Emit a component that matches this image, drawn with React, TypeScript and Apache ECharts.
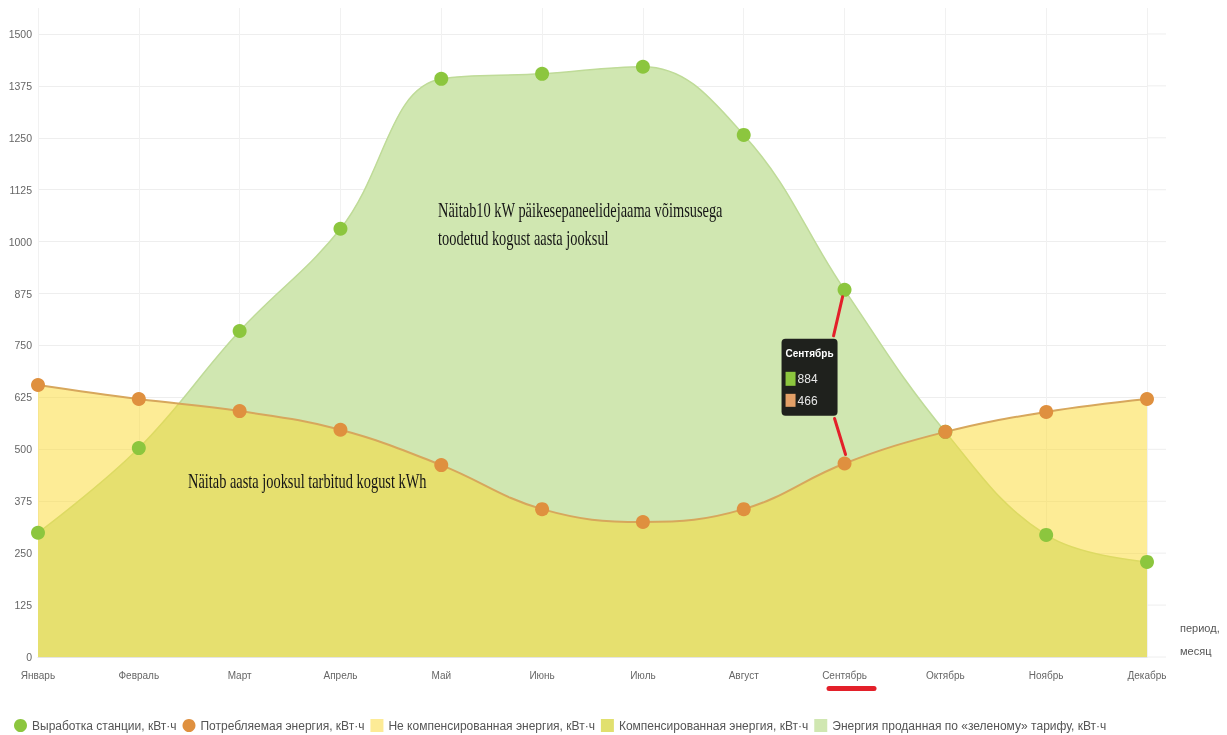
import React, { useEffect, useRef } from "react";
import * as echarts from "echarts";

const months = ["Январь", "Февраль", "Март", "Апрель", "Май", "Июнь", "Июль", "Август", "Сентябрь", "Октябрь", "Ноябрь", "Декабрь"];
const generation = [299, 503, 785, 1031, 1392, 1404, 1421, 1257, 884, 542, 294, 229];
const consumption = [655, 621, 592, 547, 462, 356, 325, 356, 466, 542, 590, 621];
const yMin = 0;
const yMax = 1562.5;
const yStep = 125;
const yLastLabel = 1500;
const highlightIndex = 8;

const GEN_NAME = "Выработка станции, кВт·ч";
const CONS_NAME = "Потребляемая энергия, кВт·ч";
const UNCOMP_NAME = "Не компенсированная энергия, кВт·ч";
const COMP_NAME = "Компенсированная энергия, кВт·ч";
const SOLD_NAME = "Энергия проданная по «зеленому» тарифу, кВт·ч";

const annotationGen = ["Näitab10 kW päikesepaneelidejaama võimsusega", "toodetud kogust aasta jooksul"];
const annotationCons = "Näitab aasta jooksul tarbitud kogust kWh";
const axisTitle = ["период,", "месяц"];

const SANS = '"Liberation Sans", Arial, sans-serif';
const SERIF = '"Liberation Serif", "Times New Roman", serif';

const C_GEN = "#8cc63e";
const C_CONS = "#df903f";
const C_SOLD = "#d0e7b1";
const C_UNCOMP_FILL = "rgba(251,217,45,0.5)";
const C_UNCOMP = "#fdeb96";
const C_COMP = "#e1e06e";

export default function App() {
  const ref = useRef<HTMLDivElement>(null);

  useEffect(() => {
    const chart = echarts.init(ref.current!, null, { renderer: "svg" });
    const option: any = {
      animation: false,
      grid: { left: 38, right: 80, top: 8, bottom: 78 },
      xAxis: {
        type: "category",
        data: months,
        boundaryGap: false,
        axisTick: { show: false },
        axisLine: { lineStyle: { color: "#e4e4e4" } },
        axisLabel: { interval: 0, fontSize: 10, color: "#666", margin: 13, fontFamily: SANS },
        splitLine: { show: true, lineStyle: { color: "#f1f1f1" } },
      },
      yAxis: {
        type: "value",
        min: yMin,
        max: yMax,
        interval: yStep,
        axisLine: { show: false },
        axisTick: { show: false },
        axisLabel: {
          fontSize: 10.5,
          color: "#666",
          margin: 6,
          fontFamily: SANS,
          showMaxLabel: false,
          formatter: (v: number) => (v > yLastLabel ? "" : String(v)),
        },
        splitLine: { showMaxLine: false, lineStyle: { color: "#eeeeee" } },
      },
      legend: {
        left: 9,
        top: 714,
        itemWidth: 13,
        itemHeight: 13,
        itemGap: 6,
        textStyle: { fontSize: 12, color: "#555", fontFamily: SANS },
        data: [
          { name: GEN_NAME, icon: "circle", itemStyle: { color: C_GEN, borderWidth: 0 } },
          { name: CONS_NAME, icon: "circle", itemStyle: { color: C_CONS, borderWidth: 0 } },
          { name: UNCOMP_NAME, icon: "rect", itemStyle: { color: C_UNCOMP, borderWidth: 0 } },
          { name: COMP_NAME, icon: "rect", itemStyle: { color: C_COMP, borderWidth: 0 } },
          { name: SOLD_NAME, icon: "rect", itemStyle: { color: C_SOLD, borderWidth: 0 } },
        ],
      },
      series: [
        {
          name: SOLD_NAME,
          type: "line",
          data: generation,
          smooth: 0.4,
          showSymbol: false,
          silent: true,
          z: 1,
          itemStyle: { color: C_SOLD },
          lineStyle: { color: "#bfdb98", width: 1.5 },
          areaStyle: { color: C_SOLD, opacity: 1 },
        },
        {
          name: UNCOMP_NAME,
          type: "line",
          data: consumption,
          smooth: 0.4,
          showSymbol: false,
          silent: true,
          z: 2,
          itemStyle: { color: C_UNCOMP },
          lineStyle: { color: "#d7a75c", width: 2 },
          areaStyle: { color: C_UNCOMP_FILL, opacity: 1 },
        },
        {
          name: COMP_NAME,
          type: "line",
          data: [],
          itemStyle: { color: C_COMP },
        },
        {
          name: GEN_NAME,
          type: "scatter",
          data: generation,
          symbolSize: 14,
          z: 5,
          itemStyle: { color: C_GEN, opacity: 1 },
        },
        {
          name: CONS_NAME,
          type: "scatter",
          data: consumption,
          symbolSize: 14,
          z: 5,
          itemStyle: { color: C_CONS, opacity: 1 },
        },
      ],
    };
    chart.setOption(option);

    const toPx = (i: number, v: number) => chart.convertToPixel({ gridIndex: 0 }, [i, v]) as number[];
    const [px, gy] = toPx(highlightIndex, generation[highlightIndex]);
    const [, oy] = toPx(highlightIndex, consumption[highlightIndex]);
    const [, ay] = toPx(highlightIndex, 0);
    const [rx] = toPx(months.length - 1, 0);

    const boxX = px - 63;
    const boxY = gy + 49;
    const red = "#e3202a";

    const extLines: any[] = [];
    for (let v = yMin; v <= yLastLabel; v += yStep) {
      const [, ly] = toPx(0, v);
      extLines.push({
        type: "line", silent: true, z: 0,
        shape: { x1: rx, y1: ly, x2: rx + 19, y2: ly },
        style: { stroke: "#eeeeee", lineWidth: 1 },
      });
    }

    chart.setOption({
      graphic: [
        ...extLines,
        {
          type: "text", x: 438, y: 210, scaleX: 0.72, silent: true, z: 20,
          style: { text: annotationGen[0], fontSize: 20, fontFamily: SERIF, fill: "#151515", verticalAlign: "middle" },
        },
        {
          type: "text", x: 438, y: 238, scaleX: 0.72, silent: true, z: 20,
          style: { text: annotationGen[1], fontSize: 20, fontFamily: SERIF, fill: "#151515", verticalAlign: "middle" },
        },
        {
          type: "text", x: 188, y: 481, scaleX: 0.72, silent: true, z: 20,
          style: { text: annotationCons, fontSize: 20, fontFamily: SERIF, fill: "#151515", verticalAlign: "middle" },
        },
        {
          type: "text", x: rx + 33, y: ay - 29, silent: true,
          style: { text: axisTitle[0], fontSize: 11, fontFamily: SANS, fill: "#555", verticalAlign: "middle" },
        },
        {
          type: "text", x: rx + 33, y: ay - 6, silent: true,
          style: { text: axisTitle[1], fontSize: 11, fontFamily: SANS, fill: "#555", verticalAlign: "middle" },
        },
        {
          type: "line", silent: true, z: 20,
          shape: { x1: px - 2, y1: gy + 7, x2: px - 11, y2: gy + 46 },
          style: { stroke: red, lineWidth: 3, lineCap: "round" },
        },
        {
          type: "line", silent: true, z: 20,
          shape: { x1: px - 10, y1: oy - 45, x2: px + 1, y2: oy - 9 },
          style: { stroke: red, lineWidth: 3, lineCap: "round" },
        },
        {
          type: "rect", silent: true, z: 21,
          shape: { x: boxX, y: boxY, width: 56, height: 77, r: 4 },
          style: { fill: "#1f211d" },
        },
        {
          type: "text", x: boxX + 4, y: boxY + 15, silent: true, z: 22,
          style: { text: months[highlightIndex], fontSize: 10, fontWeight: "bold", fontFamily: SANS, fill: "#ffffff", verticalAlign: "middle" },
        },
        {
          type: "rect", silent: true, z: 22,
          shape: { x: boxX + 4, y: boxY + 33, width: 10, height: 14 },
          style: { fill: C_GEN },
        },
        {
          type: "text", x: boxX + 16, y: boxY + 40, silent: true, z: 22,
          style: { text: String(generation[highlightIndex]), fontSize: 12, fontFamily: SANS, fill: "#e8e8e8", verticalAlign: "middle" },
        },
        {
          type: "rect", silent: true, z: 22,
          shape: { x: boxX + 4, y: boxY + 55, width: 10, height: 13 },
          style: { fill: "#e3a067" },
        },
        {
          type: "text", x: boxX + 16, y: boxY + 62, silent: true, z: 22,
          style: { text: String(consumption[highlightIndex]), fontSize: 12, fontFamily: SANS, fill: "#e8e8e8", verticalAlign: "middle" },
        },
        {
          type: "rect", silent: true, z: 20,
          shape: { x: px - 18, y: ay + 29, width: 50, height: 5, r: 2.5 },
          style: { fill: red },
        },
      ],
    });

    return () => chart.dispose();
  }, []);

  return <div ref={ref} style={{ position: "fixed", left: 0, top: 0, width: 1227, height: 735 }} />;
}
